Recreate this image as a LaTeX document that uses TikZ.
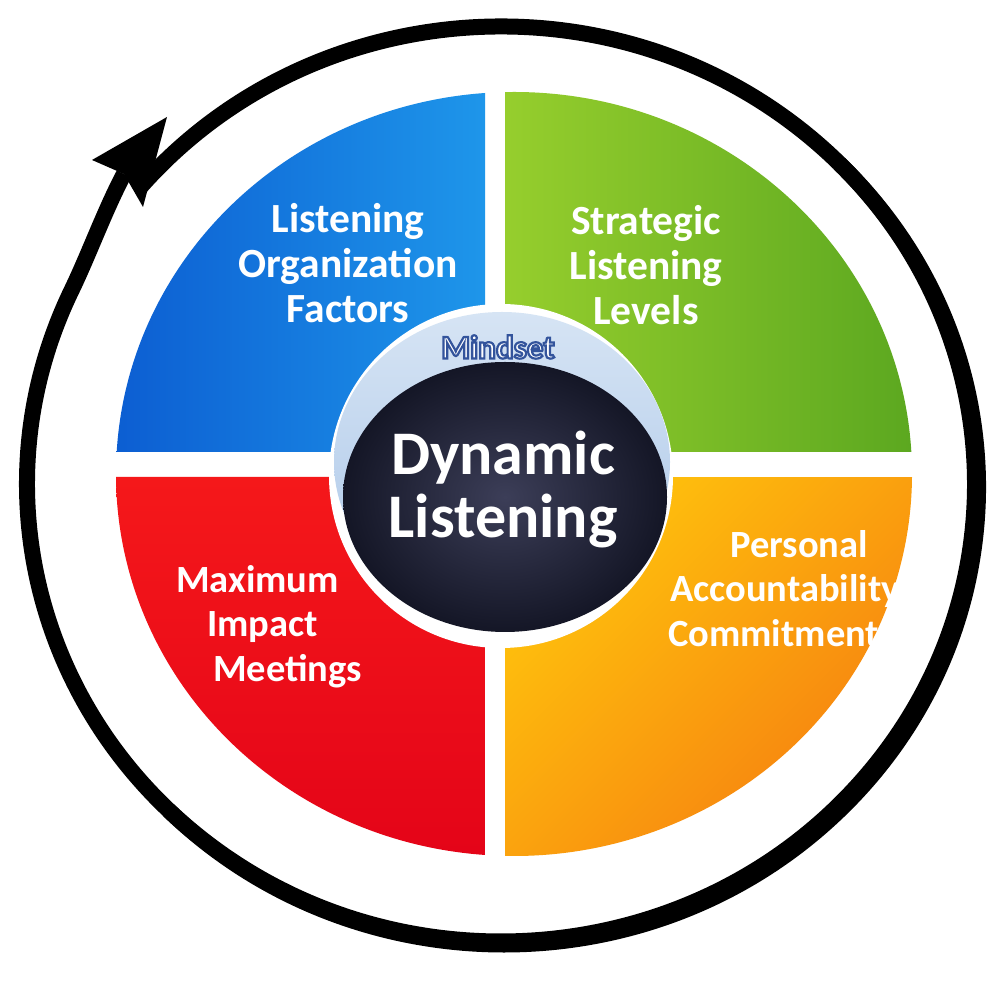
\documentclass[tikz,border=0pt]{standalone}
\usepackage{fontspec}
\setmainfont{Carlito}
\definecolor{blueD}{RGB}{12,94,210}
\definecolor{blueL}{RGB}{30,150,234}
\definecolor{greenL}{RGB}{150,206,45}
\definecolor{greenD}{RGB}{92,168,32}
\definecolor{redL}{RGB}{245,24,26}
\definecolor{redD}{RGB}{228,4,24}
\definecolor{orY}{RGB}{255,196,12}
\definecolor{orO}{RGB}{246,126,16}
\definecolor{lbT}{RGB}{214,228,244}
\definecolor{lbB}{RGB}{170,198,232}
\definecolor{dkI}{RGB}{60,62,88}
\definecolor{dkO}{RGB}{20,22,38}
\newcommand{\olText}[1]{%
  \special{pdf:literal direct 2 Tr 2.2 w 0.20 0.33 0.61 RG}#1\special{pdf:literal direct 0 Tr}}
\begin{document}
\begin{tikzpicture}[x=1pt,y=1pt,
  lbltop/.style={text=white, font=\fontsize{41.5}{45}\selectfont\bfseries, inner sep=0pt},
  lblbot/.style={text=white, font=\fontsize{38.5}{44.5}\selectfont\bfseries, inner sep=0pt},
  ringline/.style={line width=16pt, black},
  quad/.style={x radius=398pt, y radius=382pt},
]
\useasboundingbox (0,0) rectangle (998,980);
\fill[white] (0,0) rectangle (998,980);

% four quadrants
\shade[left color=blueD, right color=blueL]
  (485,528) -- (485,887) arc[start angle=94.18, end angle=176.70, quad] -- cycle;
\shade[left color=greenL, right color=greenD]
  (505,528) -- (505,887.9) arc[start angle=91.30, end angle=3.30, quad] -- cycle;
\shade[top color=redL, bottom color=redD]
  (485,503) -- (116,503) arc[start angle=180.45, end angle=265.82, quad] -- cycle;
\shade[top color=orY, bottom color=orO, shading angle=45]
  (505,503) -- (505,124.1) arc[start angle=268.70, end angle=359.55, quad] -- cycle;

% centre
\fill[white] (501,504) circle[radius=172pt];
\shade[top color=lbT, bottom color=lbB] (502,518) ellipse[x radius=168pt, y radius=150pt];
\shade[inner color=dkI, outer color=dkO] (505,483) ellipse[x radius=162pt, y radius=135pt];

% texts
\node[text=white, font=\fontsize{33}{33}\selectfont\bfseries, inner sep=0pt] (mindset) at (498,633) {\olText{Mindset}};
\node[text=white, font=\fontsize{62}{63}\selectfont\bfseries, align=center, inner sep=0pt] (core) at (503,490) {Dynamic\\Listening};
\node[lbltop, align=center] (blueText) at (348,716.5) {Listening\\Organization\\Factors};
\node[lbltop, align=center] (greenText) at (646,715) {Strategic\\Listening\\Levels};
\node[lblbot, align=left, anchor=west] (redText) at (176,353.5) {Maximum\\\hspace*{31pt}Impact\\\hspace*{37pt}Meetings};
\node[lblbot, align=left, anchor=west] (orangeText) at (668,391.5) {\hspace*{62pt}Personal\\\hspace*{2pt}Accountability\\Commitment};

% cycle arrow
\coordinate (tailStart) at (137.9,790.1);
\coordinate (thickStart) at (839.2,816.5);
\coordinate (notch) at (124,806);
\coordinate (tip) at (167,863);
\coordinate (barbL) at (92,820);
\coordinate (barbR) at (143,773);
\draw[ringline] (tailStart) arc[start angle=140, end angle=-205, x radius=474pt, y radius=457.5pt]
  .. controls (88.8,725.3) and (105.2,770.7) .. (notch);
\draw[ringline] (thickStart) arc[start angle=45, end angle=-135, x radius=474pt, y radius=457.5pt];
\fill[black] (tip) -- (barbL) -- (notch) -- (barbR) -- cycle;
\end{tikzpicture}
\end{document}
